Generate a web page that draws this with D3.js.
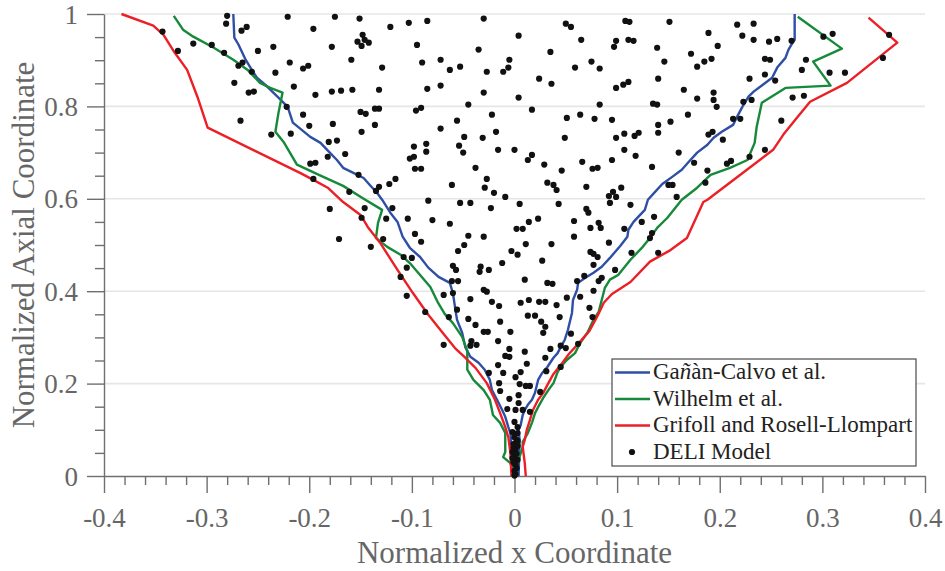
<!DOCTYPE html>
<html>
<head>
<meta charset="utf-8">
<script src="https://cdn.jsdelivr.net/npm/d3@7"></script>
<style>
  body { margin: 0; background: #fff; }
  svg { display: block; }
</style>
</head>
<body>
<script>
// ---- axis ticks ----
const xTicks = [-0.4, -0.3, -0.2, -0.1, 0, 0.1, 0.2, 0.3, 0.4];
const yTicks = [0, 0.2, 0.4, 0.6, 0.8, 1];

// ---- spray boundary models: left and right branches ----
const ganLeft = [[-0.274,1.000],[-0.273,0.949],[-0.269,0.934],[-0.262,0.901],[-0.256,0.879],[-0.251,0.862],[-0.241,0.843],[-0.231,0.821],[-0.221,0.799],[-0.216,0.765],[-0.199,0.734],[-0.189,0.721],[-0.180,0.700],[-0.173,0.684],[-0.167,0.667],[-0.157,0.656],[-0.147,0.645],[-0.141,0.630],[-0.134,0.613],[-0.129,0.598],[-0.121,0.570],[-0.114,0.550],[-0.109,0.518],[-0.102,0.494],[-0.092,0.474],[-0.084,0.451],[-0.074,0.431],[-0.063,0.418],[-0.060,0.396],[-0.058,0.366],[-0.056,0.338],[-0.051,0.310],[-0.048,0.279],[-0.043,0.258],[-0.035,0.245],[-0.029,0.230],[-0.024,0.208],[-0.022,0.186],[-0.017,0.165],[-0.012,0.143],[-0.009,0.128],[-0.006,0.106],[-0.004,0.093],[-0.003,0.063],[-0.002,0]];
const ganRight = [[0.004,0],[0.005,0.078],[0.004,0.100],[0.006,0.110],[0.008,0.132],[0.010,0.143],[0.013,0.154],[0.017,0.165],[0.020,0.180],[0.023,0.208],[0.027,0.223],[0.032,0.236],[0.038,0.256],[0.042,0.266],[0.045,0.279],[0.049,0.295],[0.052,0.316],[0.056,0.353],[0.057,0.381],[0.061,0.403],[0.062,0.418],[0.069,0.429],[0.077,0.440],[0.085,0.453],[0.093,0.472],[0.103,0.498],[0.110,0.518],[0.111,0.533],[0.116,0.550],[0.127,0.576],[0.130,0.598],[0.137,0.615],[0.144,0.632],[0.154,0.648],[0.163,0.663],[0.169,0.678],[0.178,0.700],[0.188,0.717],[0.194,0.732],[0.202,0.745],[0.213,0.760],[0.217,0.778],[0.222,0.799],[0.228,0.821],[0.233,0.832],[0.242,0.847],[0.251,0.862],[0.256,0.884],[0.264,0.905],[0.267,0.923],[0.271,0.938],[0.273,0.944],[0.273,1.000]];

const wilLeft = [[-0.332,0.996],[-0.323,0.966],[-0.313,0.951],[-0.293,0.927],[-0.274,0.901],[-0.260,0.879],[-0.248,0.851],[-0.238,0.840],[-0.226,0.830],[-0.230,0.786],[-0.233,0.745],[-0.225,0.723],[-0.212,0.674],[-0.189,0.650],[-0.167,0.628],[-0.147,0.600],[-0.129,0.576],[-0.133,0.548],[-0.135,0.515],[-0.124,0.496],[-0.111,0.479],[-0.102,0.461],[-0.092,0.435],[-0.082,0.409],[-0.075,0.377],[-0.068,0.351],[-0.060,0.331],[-0.051,0.301],[-0.046,0.271],[-0.046,0.230],[-0.040,0.208],[-0.030,0.186],[-0.024,0.165],[-0.021,0.132],[-0.014,0.115],[-0.009,0.093],[-0.009,0.052],[-0.011,0.041],[-0.004,0.028],[0,0]];
const wilRight = [[0,0],[0.003,0.028],[0.008,0.063],[0.008,0.074],[0.013,0.093],[0.017,0.115],[0.020,0.136],[0.023,0.149],[0.028,0.169],[0.033,0.186],[0.038,0.201],[0.042,0.225],[0.045,0.236],[0.051,0.251],[0.059,0.266],[0.064,0.288],[0.071,0.310],[0.077,0.338],[0.082,0.355],[0.085,0.381],[0.088,0.407],[0.093,0.425],[0.101,0.435],[0.113,0.468],[0.125,0.496],[0.132,0.515],[0.139,0.537],[0.149,0.559],[0.163,0.598],[0.178,0.624],[0.191,0.652],[0.210,0.667],[0.227,0.684],[0.234,0.721],[0.236,0.756],[0.241,0.808],[0.264,0.840],[0.308,0.845],[0.291,0.897],[0.319,0.925],[0.276,0.994]];

const griLeft = [[-0.383,1.000],[-0.352,0.975],[-0.342,0.955],[-0.331,0.916],[-0.319,0.879],[-0.309,0.821],[-0.299,0.754],[-0.209,0.656],[-0.196,0.641],[-0.182,0.624],[-0.167,0.593],[-0.150,0.565],[-0.143,0.539],[-0.131,0.505],[-0.114,0.446],[-0.099,0.396],[-0.084,0.349],[-0.070,0.310],[-0.058,0.277],[-0.048,0.256],[-0.038,0.234],[-0.027,0.201],[-0.019,0.165],[-0.014,0.136],[-0.009,0.106],[-0.006,0.084],[-0.004,0.050],[-0.003,0]];
const griRight = [[0.011,0],[0.010,0.028],[0.008,0.063],[0.010,0.078],[0.012,0.100],[0.015,0.121],[0.018,0.143],[0.023,0.165],[0.028,0.180],[0.033,0.201],[0.038,0.221],[0.045,0.240],[0.053,0.264],[0.062,0.286],[0.073,0.314],[0.081,0.347],[0.087,0.375],[0.095,0.394],[0.113,0.420],[0.132,0.464],[0.152,0.489],[0.168,0.515],[0.184,0.593],[0.188,0.598],[0.230,0.669],[0.252,0.706],[0.262,0.739],[0.275,0.775],[0.288,0.810],[0.324,0.851],[0.373,0.938],[0.345,0.992]];

// ---- DELI model droplet positions ----
const deliPoints = [
[-0.343,0.962],[-0.328,0.920],[-0.313,0.936],[-0.295,0.933],[-0.283,0.916],[-0.280,0.996],[-0.281,0.979],[-0.266,0.964],[-0.261,0.972],[-0.269,0.888],[-0.265,0.895],[-0.273,0.851],[-0.259,0.830],[-0.254,0.832],[-0.256,0.875],[-0.250,0.920],[-0.235,0.929],[-0.233,0.873],[-0.221,0.994],[-0.219,0.895],[-0.215,0.843],[-0.206,0.882],[-0.201,0.888],[-0.196,0.968],[-0.267,0.769],[-0.206,0.782],[-0.200,0.758],[-0.237,0.739],[-0.218,0.741],[-0.222,0.799],
[-0.199,0.676],[-0.194,0.678],[-0.196,0.643],
[-0.175,0.994],[-0.151,0.990],[-0.178,0.929],[-0.148,0.955],[-0.146,0.944],[-0.153,0.940],[-0.149,0.931],[-0.142,0.938],[-0.159,0.901],[-0.129,0.884],[-0.121,0.972],[-0.103,0.981],[-0.085,0.985],[-0.095,0.933],[-0.090,0.895],[-0.072,0.901],[-0.063,0.879],[-0.053,0.886],[-0.072,0.845],[-0.085,0.838],[-0.132,0.836],[-0.158,0.836],[-0.169,0.834],[-0.178,0.832],[-0.194,0.825],[-0.045,0.804],[-0.030,0.990],[-0.035,0.923],[-0.027,0.875],[-0.030,0.830],[0.004,0.953],[-0.005,0.901],[-0.006,0.884],[-0.011,0.875],[0.004,0.819],[0.024,0.860],[0.036,0.849],[0.035,0.918],[0.050,0.979],[0.055,0.972],[0.065,0.944],[0.059,0.884],[0.075,0.897],[0.083,0.882],[0.083,0.804],
[-0.150,0.788],[-0.145,0.784],[-0.136,0.795],[-0.132,0.795],[-0.096,0.791],[-0.091,0.797],[-0.136,0.760],[-0.177,0.762],[-0.149,0.745],[-0.173,0.726],[-0.181,0.723],[-0.182,0.691],[-0.165,0.697],[-0.098,0.713],[-0.086,0.719],[-0.086,0.702],[-0.102,0.687],[-0.098,0.691],[-0.097,0.665],[-0.091,0.665],[-0.152,0.652],[-0.132,0.626],[-0.135,0.617],[-0.122,0.632],[-0.116,0.643],[-0.161,0.615],
[-0.072,0.752],[-0.056,0.769],[-0.054,0.715],[-0.049,0.734],[-0.050,0.700],[-0.038,0.667],[-0.061,0.630],[-0.031,0.732],[-0.022,0.782],[-0.018,0.745],[-0.016,0.706],[0.000,0.706],[-0.029,0.624],[-0.027,0.643],[-0.020,0.613],[-0.009,0.604],
[0.013,0.684],[0.017,0.695],[0.029,0.674],[0.017,0.793],[0.051,0.775],[0.064,0.782],[0.078,0.773],[0.049,0.732],[0.046,0.661],[0.066,0.680],[0.076,0.665],[0.081,0.667],[0.032,0.635],[0.038,0.630],[0.041,0.619],[0.070,0.626],[0.092,0.606],[0.099,0.604],[0.096,0.615],[0.104,0.624],
[0.108,0.985],[0.112,0.983],[0.151,0.983],[0.099,0.942],[0.097,0.929],[0.111,0.944],[0.116,0.942],[0.139,0.927],[0.146,0.897],[0.172,0.914],[0.178,0.886],[0.185,0.897],[0.192,0.903],[0.189,0.959],[0.198,0.931],[0.217,0.977],[0.233,0.979],[0.222,0.953],[0.233,0.944],[0.248,0.940],[0.256,0.946],[0.270,0.942],[0.301,0.951],[0.310,0.957],[0.284,0.901],[0.280,0.879],[0.307,0.873],[0.322,0.873],[0.244,0.903],[0.249,0.901],[0.244,0.869],[0.254,0.856],[0.229,0.860],[0.271,0.819],[0.282,0.823],[0.359,0.905],[0.365,0.955],
[0.099,0.840],[0.106,0.847],[0.111,0.853],[0.140,0.860],[0.165,0.836],[0.178,0.817],[0.194,0.830],[0.194,0.814],[0.197,0.799],[0.135,0.806],[0.139,0.804],[0.223,0.810],[0.231,0.814],
[0.095,0.771],[0.099,0.732],[0.107,0.741],[0.117,0.736],[0.121,0.743],[0.140,0.760],[0.140,0.743],[0.152,0.767],[0.169,0.782],[0.160,0.700],[0.189,0.739],[0.193,0.745],[0.203,0.728],[0.213,0.773],[0.220,0.773],[0.260,0.769],[0.244,0.706],
[0.095,0.684],[0.107,0.706],[0.118,0.693],[0.134,0.669],[0.175,0.678],[0.188,0.661],[0.207,0.676],[0.211,0.682],[0.229,0.691],[0.186,0.635],[0.150,0.630],[0.154,0.630],[0.158,0.604],
[0.093,0.591],[-0.180,0.578],[-0.146,0.580],[-0.119,0.580],[-0.084,0.596],[-0.053,0.591],[-0.043,0.591],[-0.023,0.580],[0.005,0.589],[0.043,0.589],[0.070,0.578],[0.072,0.570],[-0.149,0.559],[-0.125,0.557],[-0.104,0.557],[-0.080,0.554],[-0.063,0.546],[0.002,0.535],[0.008,0.535],[0.014,0.550],[0.023,0.557],[0.058,0.552],[0.082,0.548],[0.084,0.537],[0.074,0.537],[-0.171,0.513],[-0.128,0.513],[-0.097,0.524],[-0.091,0.507],[-0.045,0.520],[-0.030,0.518],[-0.049,0.500],[-0.055,0.487],[0.011,0.502],[0.036,0.502],[0.058,0.518],[0.092,0.505],[-0.140,0.496],[-0.003,0.487],[0.003,0.479],[0.074,0.485],[0.077,0.481],[0.081,0.474],[-0.100,0.472],[-0.108,0.474],[0.027,0.466],[-0.012,0.461],[-0.060,0.455],[-0.057,0.446],[-0.033,0.453],[-0.034,0.442],[-0.025,0.446],[-0.105,0.451],[0.077,0.457],[0.098,0.446],[0.068,0.433],[-0.111,0.431],[-0.061,0.422],[-0.055,0.422],[0.010,0.425],[0.032,0.418],[0.037,0.416],[0.061,0.422],[0.082,0.422],[0.085,0.429],[-0.030,0.403],[-0.027,0.399],[0.077,0.401],[-0.069,0.392],[-0.060,0.396],[-0.105,0.390],[-0.043,0.383],[-0.022,0.377],[-0.015,0.368],[0.006,0.375],[0.014,0.381],[0.024,0.377],[0.030,0.377],[0.041,0.370],[0.051,0.386],[0.064,0.388],[0.073,0.364],[-0.056,0.360],[-0.087,0.355],[-0.064,0.344],[-0.045,0.340],[-0.014,0.334],[0.013,0.347],[0.020,0.347],[0.026,0.334],[0.030,0.323],[0.044,0.344],[0.076,0.344],[-0.038,0.327],[-0.030,0.312],[-0.026,0.312],[-0.004,0.312],[0.028,0.310],[0.055,0.308],[-0.042,0.292],[-0.016,0.292],[0.062,0.286],[-0.069,0.284],[-0.043,0.282],[-0.037,0.284],[-0.005,0.275],[-0.009,0.260],[-0.005,0.258],[0.010,0.269],[0.035,0.275],[0.045,0.282],[0.050,0.277],[-0.016,0.240],[0.012,0.243],[0.030,0.256],[0.031,0.227],[-0.025,0.223],[-0.011,0.223],[0.001,0.214],[0.006,0.225],[0.045,0.236],
[0.113,0.587],[0.107,0.535],[0.124,0.550],[0.136,0.561],[0.134,0.526],[0.132,0.515],[0.114,0.483],[0.140,0.483],
[-0.015,0.201],[0.005,0.199],[0.011,0.195],[0.015,0.195],[0.025,0.182],[-0.014,0.184],[0.004,0.175],[-0.005,0.167],[0.004,0.158],[-0.007,0.145],[0.001,0.143],[0.008,0.143],[0.015,0.139],[0.000,0.117],[0.003,0.106],[-0.002,0.095],[0.003,0.093],[0.000,0.084],[0.002,0.078],[-0.001,0.069],[0.003,0.065],[0.001,0.058],[-0.002,0.052],[0.002,0.048],[0.000,0.041],[0.003,0.035],[-0.001,0.030],[0.001,0.024],[0.002,0.017],[0.000,0.011],[0.001,0.004],[-0.001,0.061],[0.003,0.076],[-0.002,0.039],[0.000,0.001]
];

// ---- series styling / legend entries ----
const seriesNames = ["Gañàn-Calvo et al.", "Wilhelm et al.", "Grifoll and Rosell-Llompart", "DELI Model"];
const seriesColors = ["#2f4fa6", "#16893a", "#ec1f26", "#111111"];

// ---- layout ----
const W = 945, H = 571;
const serif = "'Liberation Serif','Times New Roman',Times,serif";
const axisGray = "#6f6f6f";
const textGray = "#666666";

const svg = d3.select("body").append("svg")
  .attr("width", W).attr("height", H)
  .style("background", "#fff");

const x = d3.scaleLinear().domain([-0.4, 0.4]).range([104, 925]);
const y = d3.scaleLinear().domain([0, 1]).range([476, 14]);

// horizontal grid lines
svg.append("g").selectAll("line")
  .data(yTicks.filter(d => d > 0))
  .join("line")
  .attr("x1", x(-0.4)).attr("x2", x(0.4))
  .attr("y1", d => y(d)).attr("y2", d => y(d))
  .attr("stroke", "#e6e6e6").attr("stroke-width", 1.6);

// minor tick positions
const xMinor = d3.range(-20, 21).filter(i => i % 5 !== 0).map(i => i * 0.02);
const yMinor = d3.range(0, 21).filter(i => i % 4 !== 0).map(i => i * 0.05);

function styleAxis(g) {
  g.selectAll("line").attr("stroke", axisGray).attr("stroke-width", 1.4);
  g.selectAll("path").attr("stroke", axisGray).attr("stroke-width", 1.4);
  g.selectAll("text")
    .attr("fill", textGray)
    .style("font-family", serif)
    .style("font-size", "27px");
}

// x axis minor ticks
svg.append("g")
  .attr("transform", `translate(0,${y(0)})`)
  .call(d3.axisBottom(x).tickValues(xMinor).tickSize(9).tickFormat(""))
  .call(g => g.select(".domain").remove())
  .call(styleAxis);

// y axis minor ticks
svg.append("g")
  .attr("transform", `translate(${x(-0.4)},0)`)
  .call(d3.axisLeft(y).tickValues(yMinor).tickSize(9).tickFormat(""))
  .call(g => g.select(".domain").remove())
  .call(styleAxis);

const fmt = d => (d === 0 ? "0" : d === 1 ? "1" : d.toFixed(1));

// x axis
svg.append("g")
  .attr("transform", `translate(0,${y(0)})`)
  .call(d3.axisBottom(x).tickValues(xTicks).tickSize(17).tickSizeOuter(0).tickFormat(fmt))
  .call(styleAxis)
  .call(g => g.selectAll("text").attr("y", 51).attr("dy", null));

// y axis
svg.append("g")
  .attr("transform", `translate(${x(-0.4)},0)`)
  .call(d3.axisLeft(y).tickValues(yTicks).tickSize(17).tickSizeOuter(0).tickPadding(9).tickFormat(fmt))
  .call(styleAxis)
  .call(g => g.selectAll("text").attr("dy", "0.34em"));

// axis titles
svg.append("text")
  .attr("x", (x(-0.4) + x(0.4)) / 2).attr("y", 563)
  .attr("text-anchor", "middle")
  .attr("fill", textGray)
  .style("font-family", serif).style("font-size", "31px")
  .text("Normalized x Coordinate");

svg.append("text")
  .attr("transform", `translate(34,${(y(0) + y(1)) / 2}) rotate(-90)`)
  .attr("text-anchor", "middle")
  .attr("fill", textGray)
  .style("font-family", serif).style("font-size", "31px")
  .text("Normalized Axial Coordinate");

// boundary curves
const line = d3.line().x(d => x(d[0])).y(d => y(d[1]));
const curves = [
  [ganLeft, 0], [ganRight, 0],
  [wilLeft, 1], [wilRight, 1],
  [griLeft, 2], [griRight, 2]
];
svg.append("g").selectAll("path")
  .data(curves)
  .join("path")
  .attr("d", d => line(d[0]))
  .attr("fill", "none")
  .attr("stroke", d => seriesColors[d[1]])
  .attr("stroke-width", 2.4)
  .attr("stroke-linejoin", "round");

// DELI droplets
svg.append("g").selectAll("circle")
  .data(deliPoints)
  .join("circle")
  .attr("cx", d => x(d[0]))
  .attr("cy", d => y(d[1]))
  .attr("r", 3.1)
  .attr("fill", seriesColors[3]);

// legend
const lg = svg.append("g");
lg.append("rect")
  .attr("x", 612).attr("y", 359).attr("width", 304).attr("height", 107)
  .attr("fill", "#fff").attr("stroke", "#4a4a4a").attr("stroke-width", 1.2);

const rowBase = [379, 405.5, 432, 458.5];
seriesNames.forEach((name, i) => {
  const cy = rowBase[i] - 6.5;
  if (i < 3) {
    lg.append("line")
      .attr("x1", 615).attr("x2", 650).attr("y1", cy).attr("y2", cy)
      .attr("stroke", seriesColors[i]).attr("stroke-width", 2.4);
  } else {
    lg.append("circle").attr("cx", 632).attr("cy", cy).attr("r", 3.1).attr("fill", seriesColors[i]);
  }
  const t = lg.append("text")
    .attr("x", 653).attr("y", rowBase[i])
    .attr("fill", "#222")
    .style("font-family", serif).style("font-size", "23px");
  if (i === 0) {
    t.append("tspan").text("Ga");
    t.append("tspan").style("font-style", "italic").text("ñ");
    t.append("tspan").text("àn-Calvo et al.");
  } else {
    t.text(name);
  }
});
</script>
</body>
</html>
